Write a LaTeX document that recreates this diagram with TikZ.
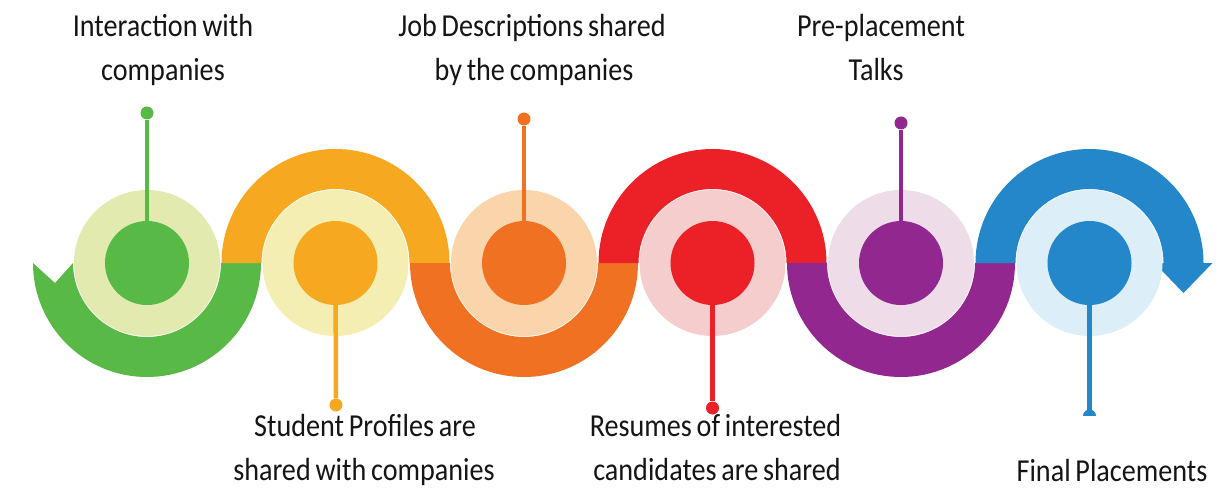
\documentclass[tikz,border=0pt]{standalone}
\usepackage{fontspec}
\setmainfont{Carlito}[FakeStretch=0.88, WordSpace=0.75]
\definecolor{cgreen}{HTML}{59B947}
\definecolor{lgreen}{HTML}{E3EAB0}
\definecolor{cyellow}{HTML}{F7A821}
\definecolor{lyellow}{HTML}{F4EEB2}
\definecolor{corange}{HTML}{F17123}
\definecolor{lorange}{HTML}{FAD4AA}
\definecolor{cred}{HTML}{EC2027}
\definecolor{lred}{HTML}{F6CDCD}
\definecolor{cpurple}{HTML}{92278F}
\definecolor{lpurple}{HTML}{EEDCE8}
\definecolor{cblue}{HTML}{2387C9}
\definecolor{lblue}{HTML}{DCEEF8}
\definecolor{ctext}{HTML}{151515}
\tikzset{
  ringnode/.style={circle, inner sep=0pt, minimum size=146pt, draw=none},
  dotnode/.style={circle, inner sep=0pt, minimum size=84pt, draw=none},
  ballnode/.style={circle, inner sep=0pt, minimum size=13pt, draw=none},
  stemline/.style={line width=4.5pt},
  label/.style={font=\fontsize{32}{43}\selectfont, text=ctext, anchor=base, inner sep=0pt},
}
\begin{document}
\begin{tikzpicture}[x=1pt,y=1pt]
\useasboundingbox (0,0) rectangle (1230,488);
\fill[white] (0,0) rectangle (1230,488);

% bands
\fill[cgreen, shift={(147,225)}] (-114,0) arc[start angle=180,end angle=360,radius=114] -- (74,0) arc[start angle=0,end angle=-180,radius=74] -- (-92,-20) -- cycle;
\fill[cyellow, shift={(335.5,225)}] (-114,0) arc[start angle=180,end angle=0,radius=114] -- (74,0) arc[start angle=0,end angle=180,radius=74] -- cycle;
\fill[corange, shift={(524,225)}] (-114,0) arc[start angle=180,end angle=360,radius=114] -- (74,0) arc[start angle=0,end angle=-180,radius=74] -- cycle;
\fill[cred, shift={(712.5,225)}] (-114,0) arc[start angle=180,end angle=0,radius=114] -- (74,0) arc[start angle=0,end angle=180,radius=74] -- cycle;
\fill[cpurple, shift={(901,225)}] (-114,0) arc[start angle=180,end angle=360,radius=114] -- (74,0) arc[start angle=0,end angle=-180,radius=74] -- cycle;
\fill[cblue, shift={(1089.5,225)}] (-114,0) arc[start angle=180,end angle=0,radius=114] -- (123,0) -- (94,-30) -- (65,0) -- (74,0) arc[start angle=0,end angle=180,radius=74] -- cycle;

% rings
\node[ringnode, fill=lgreen] (r1) at (147,225) {};
\node[ringnode, fill=lyellow] (r2) at (335.5,225) {};
\node[ringnode, fill=lorange] (r3) at (524,225) {};
\node[ringnode, fill=lred] (r4) at (712.5,225) {};
\node[ringnode, fill=lpurple] (r5) at (901,225) {};
\node[ringnode, fill=lblue] (r6) at (1089.5,225) {};

% dots
\node[dotnode, fill=cgreen] (d1) at (147,225) {};
\node[dotnode, fill=cyellow] (d2) at (335.5,225) {};
\node[dotnode, fill=corange] (d3) at (524,225) {};
\node[dotnode, fill=cred] (d4) at (712.5,225) {};
\node[dotnode, fill=cpurple] (d5) at (901,225) {};
\node[dotnode, fill=cblue] (d6) at (1089.5,225) {};

% balls
\node[ballnode, fill=cgreen] (b1) at (147,375) {};
\node[ballnode, fill=cyellow] (b2) at (336,83) {};
\node[ballnode, fill=corange] (b3) at (524,369) {};
\node[ballnode, fill=cred] (b4) at (712.5,80) {};
\node[ballnode, fill=cpurple] (b5) at (901,365) {};
\begin{scope}
\clip (0,73) rectangle (1230,488);
\node[ballnode, fill=cblue] (b6) at (1089.5,72) {};
\end{scope}

% stems
\draw[stemline, cgreen] (d1) -- (b1);
\draw[stemline, cyellow] (d2) -- (b2);
\draw[stemline, corange] (d3) -- (b3);
\draw[stemline, cred] (d4) -- (b4);
\draw[stemline, cpurple] (d5) -- (b5);
\draw[stemline, cblue] (d6.south) -- (1089.5,78);

% labels
\node[label] (t1a) at (163,451) {Interaction with};
\node[label] (t1b) at (163,407) {companies};
\node[label] (t3a) at (532,451) {Job Descriptions shared};
\node[label] (t3b) at (534,407) {by the companies};
\node[label] (t5a) at (881,451) {Pre-placement};
\node[label] (t5b) at (876,407) {Talks};
\node[label] (t2a) at (365,52) {Student Profiles are};
\node[label] (t2b) at (364,8) {shared with companies};
\node[label] (t4a) at (715.5,52) {Resumes of interested};
\node[label] (t4b) at (717,8) {candidates are shared};
\node[label] (t6) at (1112,7) {Final Placements};
\end{tikzpicture}
\end{document}
